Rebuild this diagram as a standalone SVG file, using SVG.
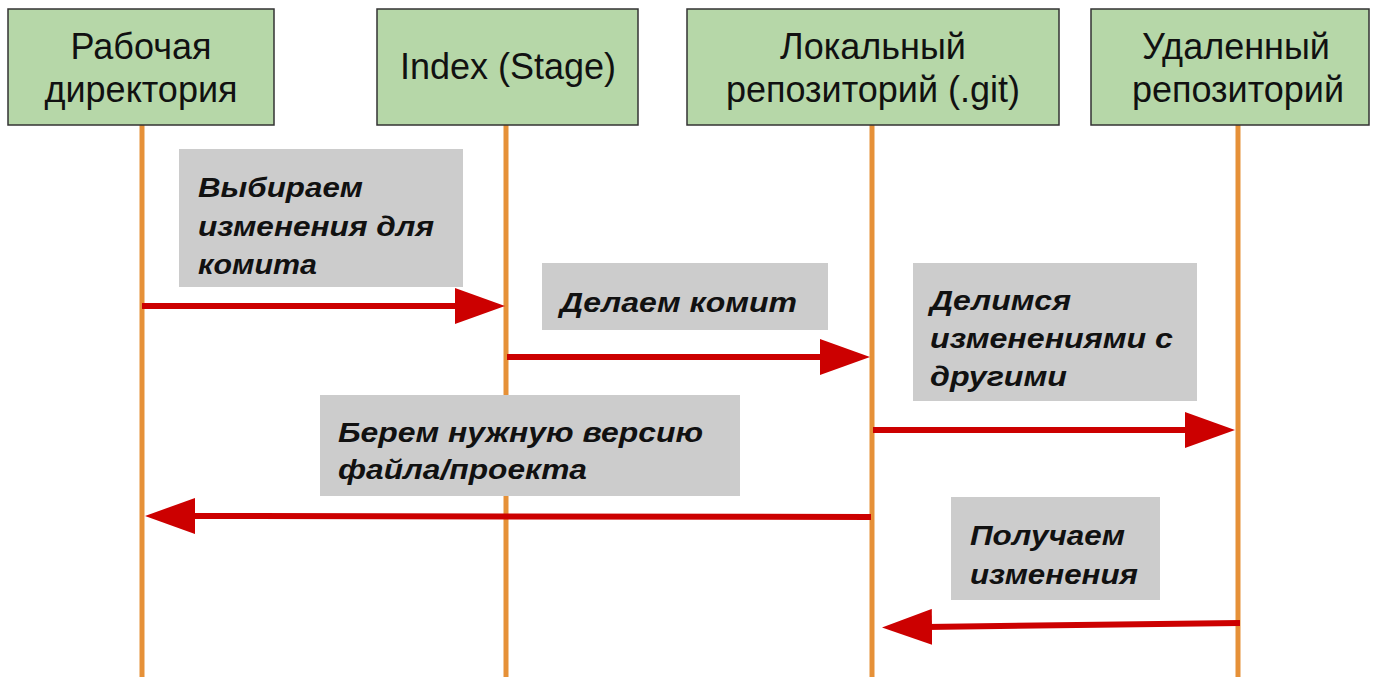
<svg xmlns="http://www.w3.org/2000/svg" width="1373" height="677" viewBox="0 0 1373 677">
  <style>
    .box { fill: #b6d7a8; stroke: #333333; stroke-width: 1.5; }
    .life { stroke: #e69138; stroke-width: 5; fill: none; }
    .title { font-family: "Liberation Sans", Arial, sans-serif; font-size: 36px; fill: #111111; text-anchor: middle; }
    .msg { fill: #cccccc; }
    .msgtext { font-family: "Liberation Sans", Arial, sans-serif; font-size: 28px; font-weight: bold; font-style: italic; fill: #111111; }
    .arrow { stroke: #cc0000; stroke-width: 6; fill: none; marker-end: url(#head); }
  </style>
  <defs>
    <marker id="head" markerUnits="userSpaceOnUse" viewBox="0 0 50 36" refX="6" refY="18" markerWidth="50" markerHeight="36" orient="auto">
      <polygon points="0,0 50,18 0,36" fill="#cc0000"/>
    </marker>
  </defs>

  <rect width="1373" height="677" fill="#ffffff"/>

  <!-- lifelines of the four participants -->
  <g id="lifelines">
    <line class="life" x1="142" y1="125" x2="142" y2="677"/>
    <line class="life" x1="506" y1="125" x2="506" y2="677"/>
    <line class="life" x1="872" y1="125" x2="872" y2="677"/>
    <line class="life" x1="1238" y1="125" x2="1238" y2="677"/>
  </g>

  <!-- messages between participants -->
  <g id="connectors">
    <line class="arrow" x1="142" y1="306" x2="461" y2="306"/>
    <line class="arrow" x1="507" y1="357" x2="826" y2="357"/>
    <line class="arrow" x1="873" y1="430" x2="1191" y2="430"/>
    <line class="arrow" x1="871" y1="517" x2="189" y2="516"/>
    <line class="arrow" x1="1240" y1="623" x2="926" y2="627"/>
  </g>

  <g id="node-workdir">
    <rect class="box" x="8" y="9" width="266" height="116"/>
    <text class="title" x="141" y="59">Рабочая</text>
    <text class="title" x="141" y="102">директория</text>
  </g>

  <g id="node-index">
    <rect class="box" x="377" y="9" width="261" height="116"/>
    <text class="title" x="508" y="79">Index (Stage)</text>
  </g>

  <g id="node-local">
    <rect class="box" x="687" y="9" width="372" height="116"/>
    <text class="title" x="873" y="59">Локальный</text>
    <text class="title" x="873" y="102">репозиторий (.git)</text>
  </g>

  <g id="node-remote">
    <rect class="box" x="1091" y="9" width="278" height="116"/>
    <text class="title" x="1236" y="59">Удаленный</text>
    <text class="title" x="1238" y="102">репозиторий</text>
  </g>

  <!-- message labels -->
  <g id="label-select">
    <rect class="msg" x="179" y="149" width="284" height="138"/>
    <text class="msgtext" x="198" y="197" textLength="165" lengthAdjust="spacingAndGlyphs">Выбираем</text>
    <text class="msgtext" x="198" y="236" textLength="236" lengthAdjust="spacingAndGlyphs">изменения для</text>
    <text class="msgtext" x="198" y="274" textLength="119" lengthAdjust="spacingAndGlyphs">комита</text>
  </g>

  <g id="label-commit">
    <rect class="msg" x="542" y="263" width="286" height="67"/>
    <text class="msgtext" x="560" y="312" textLength="237" lengthAdjust="spacingAndGlyphs">Делаем комит</text>
  </g>

  <g id="label-push">
    <rect class="msg" x="913" y="263" width="284" height="138"/>
    <text class="msgtext" x="930" y="310" textLength="141" lengthAdjust="spacingAndGlyphs">Делимся</text>
    <text class="msgtext" x="930" y="348" textLength="243" lengthAdjust="spacingAndGlyphs">изменениями с</text>
    <text class="msgtext" x="930" y="386" textLength="137" lengthAdjust="spacingAndGlyphs">другими</text>
  </g>

  <g id="label-checkout">
    <rect class="msg" x="320" y="395" width="420" height="101"/>
    <text class="msgtext" x="338" y="442" textLength="365" lengthAdjust="spacingAndGlyphs">Берем нужную версию</text>
    <text class="msgtext" x="338" y="479" textLength="249" lengthAdjust="spacingAndGlyphs">файла/проекта</text>
  </g>

  <g id="label-pull">
    <rect class="msg" x="951" y="497" width="209" height="103"/>
    <text class="msgtext" x="970" y="545" textLength="155" lengthAdjust="spacingAndGlyphs">Получаем</text>
    <text class="msgtext" x="970" y="584" textLength="168" lengthAdjust="spacingAndGlyphs">изменения</text>
  </g>
</svg>
